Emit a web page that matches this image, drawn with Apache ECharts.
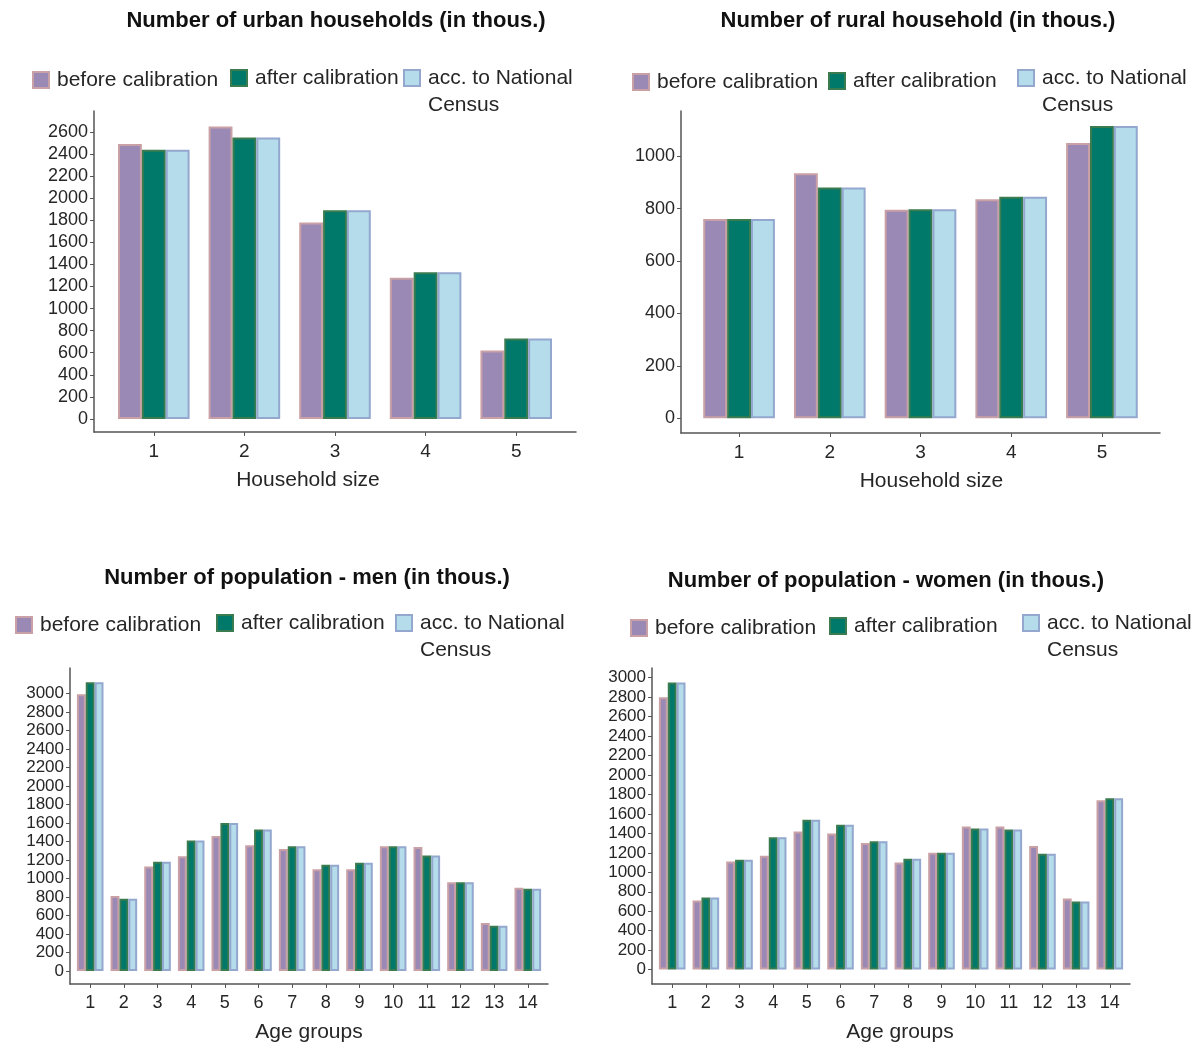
<!DOCTYPE html>
<html>
<head>
<meta charset="utf-8">
<title>Households and population before and after calibration</title>
<script src="https://cdn.jsdelivr.net/npm/echarts@6/dist/echarts.min.js"></script>
<style>
  html, body { margin: 0; padding: 0; background: #ffffff; }
  #chart { width: 1203px; height: 1044px; }
</style>
</head>
<body>
<div id="chart"></div>
<script>
// ---- data (thousands) ----
const householdSizes = [1, 2, 3, 4, 5];
const urbanBefore = [2490, 2650, 1780, 1280, 620];
const urbanAfter  = [2440, 2550, 1890, 1330, 730];
const urbanCensus = [2440, 2550, 1890, 1330, 730];

const ruralBefore = [760, 935, 795, 835, 1050];
const ruralAfter  = [760, 880, 797, 845, 1115];
const ruralCensus = [760, 880, 797, 845, 1115];

const ageGroups = [1, 2, 3, 4, 5, 6, 7, 8, 9, 10, 11, 12, 13, 14];
const menBefore = [2990, 810, 1130, 1240, 1460, 1360, 1320, 1100, 1100, 1350, 1340, 960, 520, 900];
const menAfter  = [3120, 780, 1180, 1410, 1600, 1530, 1350, 1150, 1170, 1350, 1250, 960, 490, 890];
const menCensus = [3120, 780, 1180, 1410, 1600, 1530, 1350, 1150, 1170, 1350, 1250, 960, 490, 890];

const womenBefore = [2800, 710, 1110, 1170, 1420, 1400, 1300, 1100, 1200, 1470, 1470, 1270, 730, 1740];
const womenAfter  = [2950, 740, 1130, 1360, 1540, 1490, 1320, 1140, 1200, 1450, 1440, 1190, 700, 1760];
const womenCensus = [2950, 740, 1130, 1360, 1540, 1490, 1320, 1140, 1200, 1450, 1440, 1190, 700, 1760];

// ---- tick labels ----
const urbanTicks = [0, 200, 400, 600, 800, 1000, 1200, 1400, 1600, 1800, 2000, 2200, 2400, 2600];
const ruralTicks = [0, 200, 400, 600, 800, 1000];
const populationTicks = [0, 200, 400, 600, 800, 1000, 1200, 1400, 1600, 1800, 2000, 2200, 2400, 2600, 2800, 3000];

const SERIES_BEFORE = 'before calibration';
const SERIES_AFTER = 'after calibration';
const SERIES_CENSUS = 'acc. to National Census';

const FONT = '"Liberation Sans", Arial, sans-serif';
const AXIS_COLOR = '#555555';
const TEXT_COLOR = '#262626';

const styles = {
  [SERIES_BEFORE]: { color: '#9b89b5', borderColor: '#c9a0a6', borderWidth: 2 },
  [SERIES_AFTER]:  { color: '#00786a', borderColor: '#3a7b50', borderWidth: 2 },
  [SERIES_CENSUS]: { color: '#b4dcea', borderColor: '#93a7cf', borderWidth: 2 }
};

// panel layout: grid box, x range, y range, label sizes, axis name shift
const panels = [
  { title: 'Number of urban households (in thous.)', titleX: 336, titleY: 21,
    grid: { left: 94, top: 111, width: 482, height: 321 },
    cats: householdSizes, xMin: 0.34, xMax: 5.66, yMin: -118, yMax: 2790, ticks: urbanTicks,
    xName: 'Household size', namePad: [0, 54, 0, 0], tickFont: 18, catFont: 19,
    series: [urbanBefore, urbanAfter, urbanCensus],
    legend: [[32, 72], [230, 70], [403, 70]] },
  { title: 'Number of rural household (in thous.)', titleX: 918, titleY: 21,
    grid: { left: 681, top: 111, width: 479, height: 322 },
    cats: householdSizes, xMin: 0.36, xMax: 5.64, yMin: -56, yMax: 1172, ticks: ruralTicks,
    xName: 'Household size', namePad: [0, 0, 0, 22], tickFont: 18, catFont: 19,
    series: [ruralBefore, ruralAfter, ruralCensus],
    legend: [[632, 74], [828, 73], [1017, 70]] },
  { title: 'Number of population - men (in thous.)', titleX: 307, titleY: 578,
    grid: { left: 70, top: 668, width: 478, height: 318 },
    cats: ageGroups, xMin: 0.4, xMax: 14.6, yMin: -140, yMax: 3275, ticks: populationTicks,
    xName: 'Age groups', namePad: [0, 0, 0, 0], tickFont: 17, catFont: 18,
    series: [menBefore, menAfter, menCensus],
    legend: [[15, 617], [216, 615], [395, 615]] },
  { title: 'Number of population - women (in thous.)', titleX: 886, titleY: 581,
    grid: { left: 652, top: 668, width: 478, height: 319 },
    cats: ageGroups, xMin: 0.4, xMax: 14.6, yMin: -148, yMax: 3100, ticks: populationTicks,
    xName: 'Age groups', namePad: [0, 0, 0, 18], tickFont: 17, catFont: 18,
    series: [womenBefore, womenAfter, womenCensus],
    legend: [[630, 620], [829, 618], [1022, 615]] }
];

const LEGEND_LINE = 27;
const plain = v => String(v);
const option = {
  backgroundColor: '#ffffff',
  animation: false,
  textStyle: { fontFamily: FONT },
  title: [], grid: [], xAxis: [], yAxis: [], series: [], legend: []
};

panels.forEach((p, i) => {
  option.title.push({
    text: p.title, left: p.titleX, top: p.titleY, padding: 0,
    textAlign: 'center', textVerticalAlign: 'middle',
    textStyle: { fontFamily: FONT, fontSize: 22, fontWeight: 'bold', color: '#111111' }
  });
  option.grid.push(Object.assign({ containLabel: false }, p.grid));
  option.xAxis.push({
    type: 'value', gridIndex: i, min: p.xMin, max: p.xMax,
    name: p.xName, nameLocation: 'middle', nameGap: 38,
    nameTextStyle: { fontFamily: FONT, fontSize: 21, color: TEXT_COLOR, padding: p.namePad },
    axisLine: { show: true, onZero: false, lineStyle: { color: AXIS_COLOR, width: 1.5 } },
    axisTick: { show: true, length: 4, customValues: p.cats, lineStyle: { color: AXIS_COLOR } },
    axisLabel: { customValues: p.cats, formatter: plain, fontFamily: FONT, fontSize: p.catFont, color: TEXT_COLOR, margin: 10 },
    splitLine: { show: false }
  });
  option.yAxis.push({
    type: 'value', gridIndex: i, min: p.yMin, max: p.yMax,
    axisLine: { show: true, onZero: false, lineStyle: { color: AXIS_COLOR, width: 1.5 } },
    axisTick: { show: true, length: 4, customValues: p.ticks, lineStyle: { color: AXIS_COLOR } },
    axisLabel: { customValues: p.ticks, formatter: plain, fontFamily: FONT, fontSize: p.tickFont, color: TEXT_COLOR, margin: 6 },
    splitLine: { show: false }
  });
  [SERIES_BEFORE, SERIES_AFTER, SERIES_CENSUS].forEach((name, k) => {
    option.series.push({
      type: 'bar', name: name, xAxisIndex: i, yAxisIndex: i,
      barGap: '0%', barCategoryGap: '21%',
      itemStyle: styles[name],
      emphasis: { disabled: true },
      data: p.cats.map((c, j) => [c, p.series[k][j]])
    });
    const multi = name === SERIES_CENSUS;
    const pos = p.legend[k];
    option.legend.push({
      data: [{ name: name, icon: 'rect' }], left: pos[0], top: pos[1] - (multi ? 1.5 * LEGEND_LINE - 8 : LEGEND_LINE / 2 - 8),
      padding: 0, itemWidth: 16, itemHeight: 16, itemGap: 0, selectedMode: false,
      formatter: multi ? '\nacc. to National\nCensus' : '{name}',
      textStyle: { fontFamily: FONT, fontSize: 21, color: TEXT_COLOR, lineHeight: LEGEND_LINE, padding: [0, 0, 0, 3] }
    });
  });
});

const chart = echarts.init(document.getElementById('chart'), null, { renderer: 'canvas' });
chart.setOption(option);
</script>
</body>
</html>
